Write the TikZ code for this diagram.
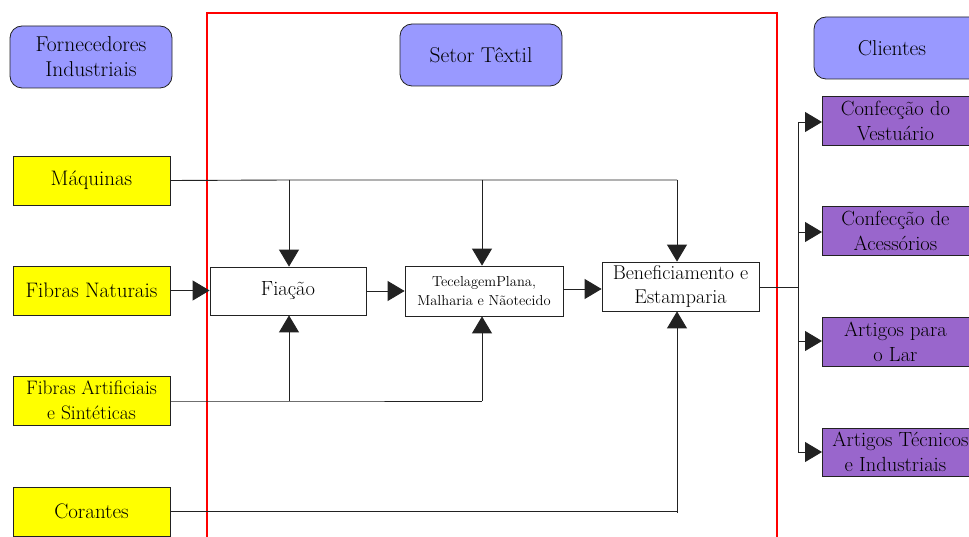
\documentclass[tikz,border=0pt]{standalone}
\usepackage{fontspec}
\usetikzlibrary{arrows.meta}
\definecolor{lav}{HTML}{9999FF}
\definecolor{yel}{HTML}{FFFF00}
\definecolor{pur}{HTML}{9966CC}
\definecolor{ln}{HTML}{222222}
\tikzset{
  hdr/.style={draw=ln, fill=lav, rounded corners=12pt, line width=0.8pt, align=center, font=\fontsize{21.5}{25}\selectfont},
  supbox/.style={draw=ln, fill=yel, line width=0.8pt, align=center, font=\fontsize{21}{25}\selectfont},
  proc/.style={draw=ln, fill=white, line width=0.8pt, align=center},
  cli/.style={draw=ln, fill=pur, line width=0.8pt, align=center, font=\fontsize{20.5}{25}\selectfont},
  conn/.style={draw=ln, line width=0.9pt},
  arr/.style={conn, -{Triangle[length=17pt,width=20pt]}},
}
\begin{document}
\begin{tikzpicture}[x=1pt,y=-1pt]
\useasboundingbox (0,0) rectangle (969,537);
% sector frame
\draw[red, line width=2pt] (207,13) rectangle (777,545);
% headers
\node[hdr, minimum width=162pt, minimum height=62pt] (forn) at (91,57) {Fornecedores\\Industriais};
\node[hdr, minimum width=162pt, minimum height=62pt] (setor) at (481,55) {Setor Têxtil};
\node[hdr, minimum width=170pt, minimum height=62pt] (cli) at (899,48) {\hspace*{-14pt}Clientes};
% suppliers
\node[supbox, minimum width=157pt, minimum height=49pt] (maq) at (91.5,180.5) {Máquinas};
\node[supbox, minimum width=157pt, minimum height=49pt] (fn) at (91.5,290.5) {Fibras Naturais};
\node[supbox, minimum width=157pt, minimum height=49pt, inner xsep=1pt, font=\fontsize{19.5}{25}\selectfont] (fa) at (91.5,400.5) {Fibras Artificiais\\e Sintéticas};
\node[supbox, minimum width=157pt, minimum height=49pt] (cor) at (91.5,511.5) {Corantes};
% processes
\node[proc, minimum width=156pt, minimum height=48pt, font=\fontsize{20.5}{24}\selectfont] (fia) at (288,291) {Fiação};
\node[proc, minimum width=158pt, minimum height=50pt, font=\fontsize{14.5}{19}\selectfont, inner xsep=1pt] (tec) at (484,291) {TecelagemPlana,\\Malharia e Nãotecido};
\node[proc, minimum width=157pt, minimum height=49pt, font=\fontsize{20}{24}\selectfont, inner xsep=1pt] (ben) at (680.5,286.5) {Beneficiamento e\\Estamparia};
% clients
\node[cli, minimum width=160pt, minimum height=49pt, anchor=west] (c1) at (822,120.5) {\hspace*{-14pt}Confecção do\\\hspace*{-14pt}Vestuário};
\node[cli, minimum width=160pt, minimum height=49pt, anchor=west] (c2) at (822,230.5) {\hspace*{-14pt}Confecção de\\\hspace*{-14pt}Acessórios};
\node[cli, minimum width=160pt, minimum height=49pt, anchor=west] (c3) at (822,341.5) {\hspace*{-14pt}Artigos para\\\hspace*{-14pt}o Lar};
\node[cli, minimum width=160pt, minimum height=48pt, anchor=west] (c4) at (822,452) {\hspace*{-4pt}Artigos Técnicos\\\hspace*{-14pt}e Industriais};
% coordinates
\coordinate (m1) at (289,180);
\coordinate (m2) at (482,180);
\coordinate (m3) at (677,180);
\coordinate (a1) at (289,401);
\coordinate (a2) at (482,401);
\coordinate (k3) at (677,512);
\coordinate (bx) at (798,287);
\coordinate (vt) at (798,122);
\coordinate (vb) at (798,452);
% Maquinas
\draw[conn] (maq.east) -- (m1) -- (m2) -- (m3);
\draw[arr] (m1) -- (m1 |- fia.north);
\draw[arr] (m2) -- (m2 |- tec.north);
\draw[arr] (m3) -- (m3 |- ben.north);
% fibras naturais
\draw[arr] (fn.east) -- (fia.west |- fn.east);
\draw[arr] (fia.east) -- (tec.west |- fia.east);
\draw[arr] (tec.east |- 0,289) -- (ben.west |- 0,289);
% fibras artificiais
\draw[conn] (fa.east |- a1) -- (a1) -- (a2);
\draw[arr] (a1) -- (a1 |- fia.south);
\draw[arr] (a2) -- (a2 |- tec.south);
% corantes
\draw[conn] (cor.east) -- (cor.east -| k3) -- (k3);
\draw[arr] (k3) -- (k3 |- ben.south);
% clients
\draw[conn] (ben.east |- bx) -- (bx);
\draw[conn] (vt) -- (vb);
\draw[arr] (vt) -- (c1.west |- vt);
\draw[arr] (798,232) -- (c2.west |- 0,232);
\draw[arr] (798,341) -- (c3.west |- 0,341);
\draw[arr] (vb) -- (c4.west |- vb);
\end{tikzpicture}
\end{document}
